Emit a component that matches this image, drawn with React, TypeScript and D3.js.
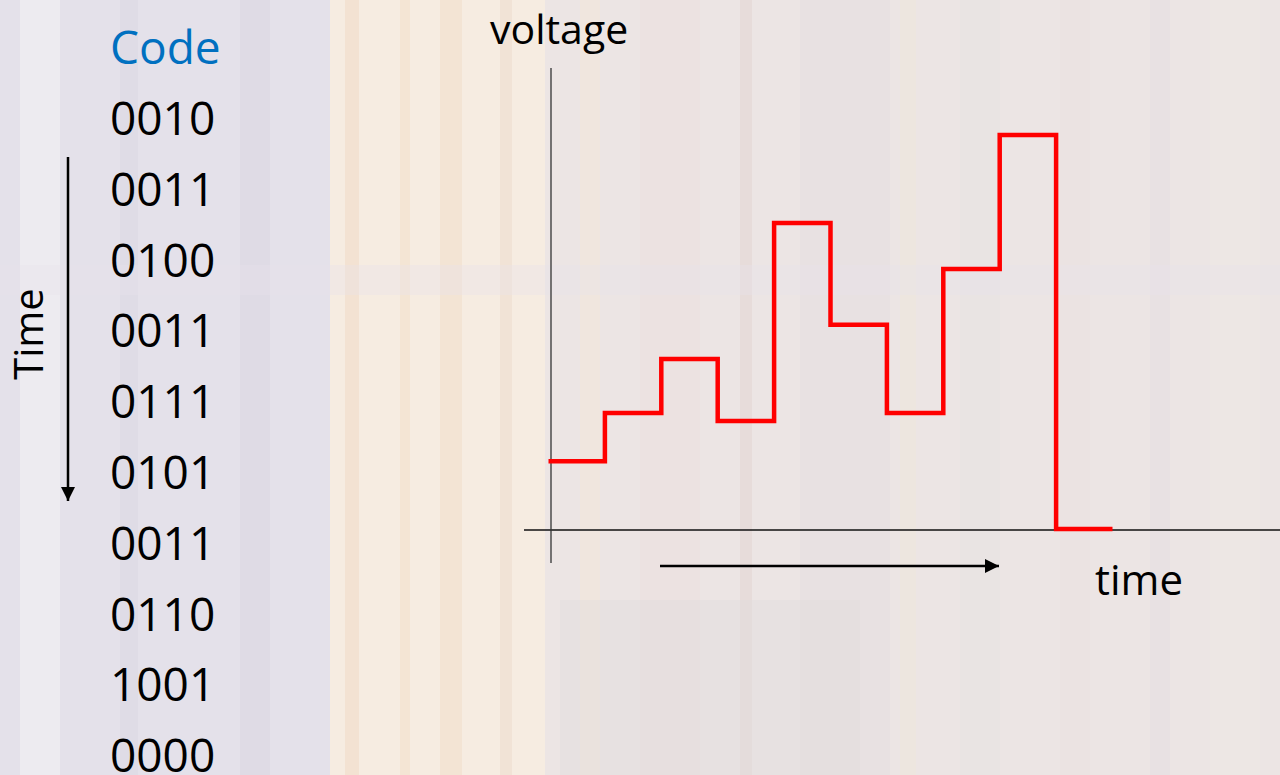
import { useEffect, useRef } from 'react';
import * as d3 from 'd3';

// codes sent to the DAC, one per clock period
const codes = ['0010', '0011', '0100', '0011', '0111', '0101', '0011', '0110', '1001', '0000'];
// output voltage (arbitrary units)
const voltage = [1.53, 2.6, 3.8, 2.42, 6.82, 4.56, 2.6, 5.8, 8.78, 0.02];

const W = 1280;
const H = 775;
const FONT = '"Open Sans", "Noto Sans", sans-serif';

// pale blurred backdrop bands: [x, width, colour, opacity]
const bands: [number, number, string, number][] = [
  [0, 330, '#e4e1ea', 1],
  [330, 215, '#f6ece1', 1],
  [545, 735, '#ece5e4', 1],
  [20, 40, '#f1eff2', 0.7],
  [120, 18, '#dcd8e2', 0.6],
  [240, 30, '#d9d5df', 0.5],
  [345, 14, '#f2dcc8', 0.6],
  [400, 10, '#f4e3cf', 0.7],
  [440, 22, '#f0dbc8', 0.5],
  [500, 12, '#ecd9cc', 0.5],
  [580, 20, '#f3e6da', 0.6],
  [640, 60, '#ece0dd', 0.5],
  [740, 12, '#e4d6d4', 0.6],
  [800, 90, '#e3dee0', 0.5],
  [900, 16, '#efe6dc', 0.6],
  [960, 40, '#e7e2e2', 0.6],
  [1060, 30, '#e9e1df', 0.5],
  [1150, 20, '#e3dde2', 0.5],
  [1210, 50, '#eee7e4', 0.6],
];

export default function App() {
  const ref = useRef<SVGSVGElement | null>(null);

  useEffect(() => {
    if (!ref.current) return;
    const svg = d3.select(ref.current);
    svg.selectAll('*').remove();

    // background
    const bg = svg.append('g');
    bg.selectAll('rect')
      .data(bands)
      .enter()
      .append('rect')
      .attr('x', (d) => d[0])
      .attr('y', 0)
      .attr('width', (d) => d[1])
      .attr('height', H)
      .attr('fill', (d) => d[2])
      .attr('opacity', (d) => d[3]);
    bg.append('rect').attr('x', 0).attr('y', 265).attr('width', W).attr('height', 30).attr('fill', '#e8e2ec').attr('opacity', 0.35);
    bg.append('rect').attr('x', 560).attr('y', 600).attr('width', 300).attr('height', 175).attr('fill', '#e2dddd').attr('opacity', 0.4);

    const x = d3.scaleLinear().domain([0, codes.length]).range([548.5, 1112.5]);
    const y = d3.scaleLinear().domain([0, 10]).range([530, 80]);
    const axisX = 551;

    // axes
    svg.append('line').attr('x1', 524).attr('x2', W).attr('y1', y(0)).attr('y2', y(0)).attr('stroke', '#111').attr('stroke-width', 1.3);
    svg.append('line').attr('x1', axisX).attr('x2', axisX).attr('y1', 68).attr('y2', 563).attr('stroke', '#333').attr('stroke-width', 1.3);

    const defs = svg.append('defs');
    defs
      .append('marker')
      .attr('id', 'head')
      .attr('viewBox', '0 0 10 10')
      .attr('refX', 10)
      .attr('refY', 5)
      .attr('markerWidth', 14)
      .attr('markerHeight', 14)
      .attr('markerUnits', 'userSpaceOnUse')
      .attr('orient', 'auto')
      .append('path')
      .attr('d', 'M0,0L10,5L0,10Z')
      .attr('fill', '#000');

    // time arrow under the plot
    svg.append('line').attr('x1', 660).attr('x2', 999).attr('y1', 566).attr('y2', 566).attr('stroke', '#000').attr('stroke-width', 2.5).attr('marker-end', 'url(#head)');
    // time arrow next to the codes
    svg.append('line').attr('x1', 68).attr('x2', 68).attr('y1', 157).attr('y2', 501).attr('stroke', '#000').attr('stroke-width', 2.5).attr('marker-end', 'url(#head)');

    // staircase
    const pts: [number, number][] = voltage.map((v, i) => [i, v]);
    pts.push([codes.length, voltage[voltage.length - 1]]);
    const line = d3
      .line<[number, number]>()
      .x((d) => x(d[0]))
      .y((d) => y(d[1]))
      .curve(d3.curveStepAfter);
    svg.append('path').attr('d', line(pts)).attr('fill', 'none').attr('stroke', '#ff0000').attr('stroke-width', 4.5).attr('stroke-linejoin', 'miter');

    // labels
    const lab = svg.append('g').attr('font-family', FONT);
    lab.append('text').attr('x', 110).attr('y', 64).attr('font-size', 46).attr('fill', '#0070c0').text('Code');
    lab.selectAll('text.code')
      .data(codes)
      .enter()
      .append('text')
      .attr('class', 'code')
      .attr('x', 110)
      .attr('y', (_d, i) => 135 + i * 70.8)
      .attr('font-size', 46)
      .attr('fill', '#000')
      .text((d) => d);
    lab.append('text').attr('x', 490).attr('y', 44).attr('font-size', 41).attr('fill', '#000').text('voltage');
    lab.append('text').attr('x', 1095).attr('y', 595).attr('font-size', 42).attr('fill', '#000').text('time');
    lab.append('text').attr('transform', 'translate(43,334) rotate(-90)').attr('text-anchor', 'middle').attr('font-size', 40).attr('fill', '#000').text('Time');
  }, []);

  return <svg ref={ref} width={W} height={H} style={{ position: 'fixed', left: 0, top: 0, display: 'block' }} />;
}
